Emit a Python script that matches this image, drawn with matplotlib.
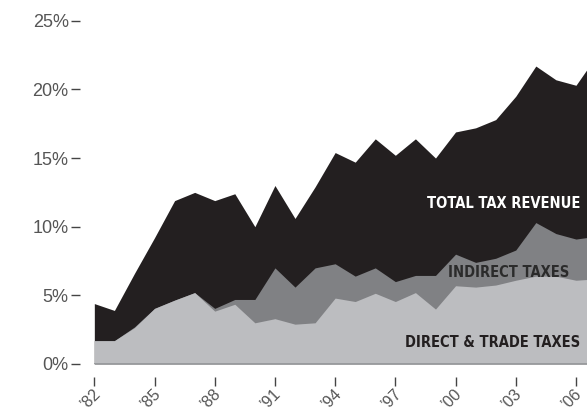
import matplotlib.pyplot as plt
from matplotlib.transforms import ScaledTranslation

# share of GDP
years = list(range(1982, 2008))
total = [4.4, 3.9, 6.6, 9.2, 11.9, 12.5, 11.9, 12.4, 10.0, 13.0, 10.6, 12.9,
         15.4, 14.7, 16.4, 15.2, 16.4, 15.0, 16.9, 17.2, 17.8, 19.5, 21.7, 20.7, 20.3, 22.4]
indirect = [1.7, 1.7, 2.7, 4.05, 4.65, 5.2, 4.05, 4.7, 4.7, 7.0, 5.6, 7.0,
            7.3, 6.4, 7.0, 6.0, 6.45, 6.45, 8.0, 7.4, 7.7, 8.3, 10.3, 9.5, 9.1, 9.3]
direct = [1.7, 1.7, 2.65, 4.05, 4.65, 5.2, 3.85, 4.35, 3.0, 3.3, 2.9, 3.0,
          4.8, 4.55, 5.15, 4.55, 5.2, 4.0, 5.7, 5.6, 5.75, 6.1, 6.4, 6.4, 6.1, 6.2]
xtick_years = [1982, 1985, 1988, 1991, 1994, 1997, 2000, 2003, 2006]
yticks = [0, 5, 10, 15, 20, 25]

fig = plt.figure(figsize=(5.87, 4.15), dpi=100)
ax = fig.add_axes([0.1607, 0.1229, 0.8393, 0.8271])

ax.fill_between(years, 0, total, color='#231f20', lw=0)
ax.fill_between(years, 0, indirect, color='#808184', lw=0)
ax.fill_between(years, 0, direct, color='#bcbdc0', lw=0)
ax.axhline(0, color='#939598', lw=1.2)

ax.set_xlim(1982, 2006.55)
ax.set_ylim(0, 25)

# ticks sit away from the plot area, no spines
for s in ['top', 'right']:
    ax.spines[s].set_visible(False)
ax.spines['left'].set_position(('outward', 10))
ax.spines['bottom'].set_position(('outward', 9.4))
ax.spines['left'].set_visible(False)
ax.spines['bottom'].set_visible(False)

ax.set_yticks(yticks)
ax.set_yticklabels([f'{v}%' for v in yticks])
ax.set_xticks(xtick_years)
ax.set_xticklabels(['\u2019' + str(y)[2:] for y in xtick_years],
                   rotation=45, ha='center', va='top')
ax.tick_params(axis='y', length=6.5, width=1, color='#444444', pad=2,
               labelsize=13, labelcolor='#555555')
ax.tick_params(axis='x', length=6.5, width=1, color='#444444', pad=0,
               labelsize=11.5, labelcolor='#555555')
for lab in ax.get_xticklabels() + ax.get_yticklabels():
    lab.set_family(['Liberation Sans', 'DejaVu Sans'])

# nudge all x labels a bit left like the original, so '06 stays on the page
for lab in ax.get_xticklabels():
    lab.set_transform(lab.get_transform() + ScaledTranslation(-3 / 72, 0, fig.dpi_scale_trans))

lbl = dict(family=['Liberation Sans Narrow', 'DejaVu Sans'], weight='bold',
           stretch='condensed', fontsize=10.5, ha='right', va='center')
ax.text(2006.2, 11.7, 'TOTAL TAX REVENUE', color='white', **lbl)
ax.text(2005.65, 6.7, 'INDIRECT TAXES', color='#2b2b2b', **lbl)
ax.text(2006.2, 1.53, 'DIRECT & TRADE TAXES', color='#231f20', **lbl)

fig.savefig('out.png', dpi=100)
